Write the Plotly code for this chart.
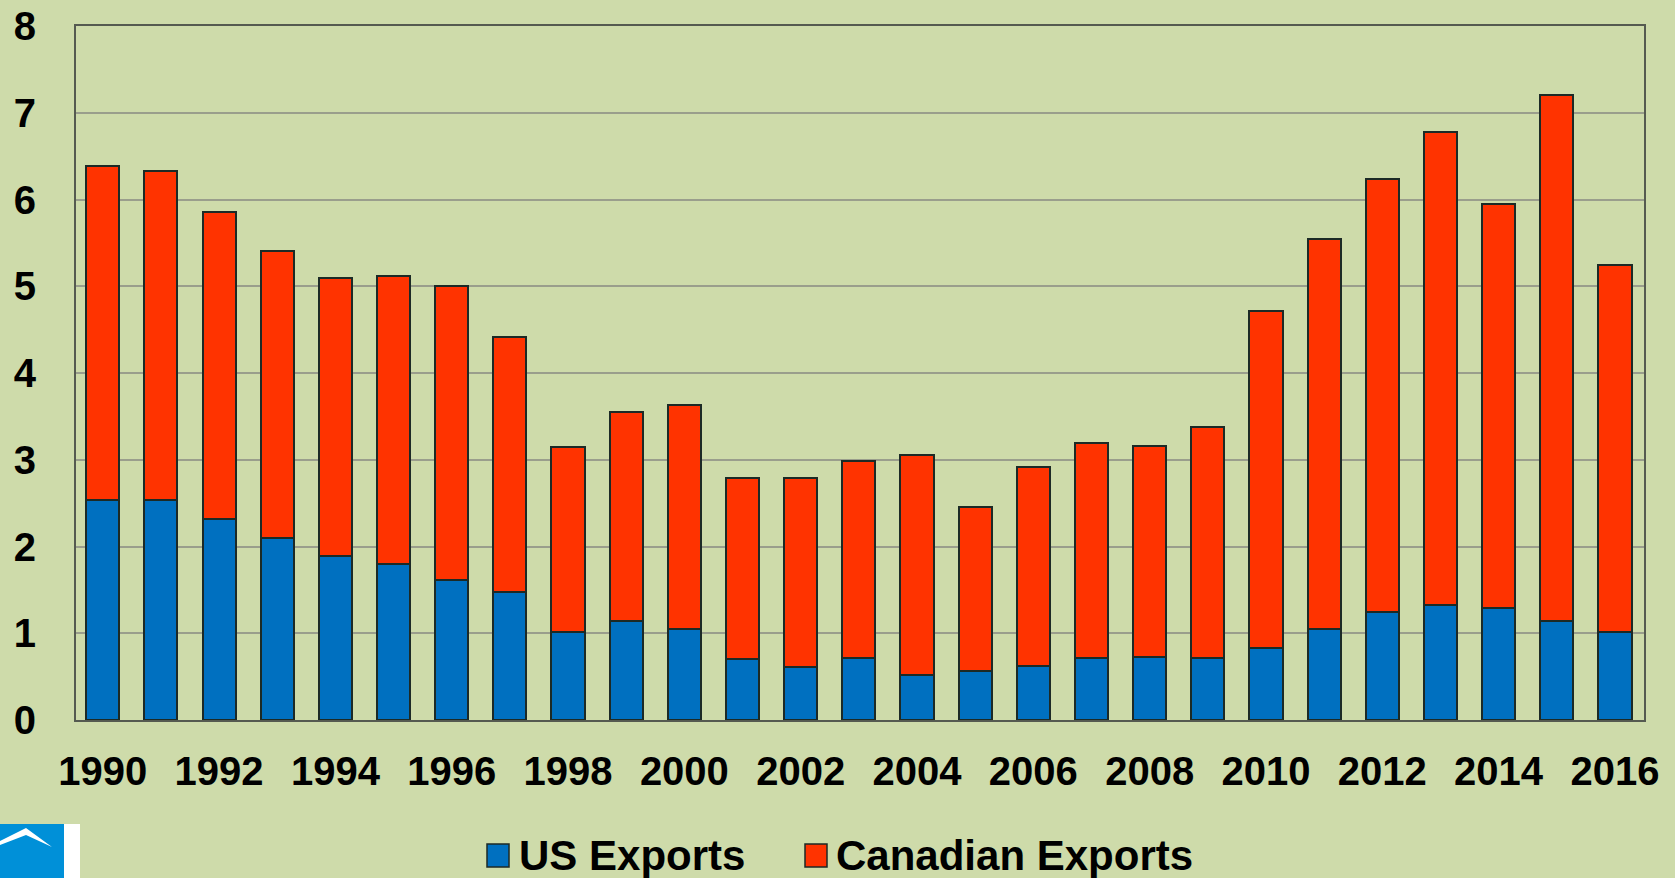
import plotly.graph_objects as go

years = list(range(1990, 2017))
us_exports = [2.54, 2.54, 2.32, 2.10, 1.89, 1.80, 1.61, 1.48, 1.02, 1.14, 1.05, 0.70, 0.61, 0.71,
              0.52, 0.56, 0.62, 0.71, 0.73, 0.71, 0.83, 1.05, 1.24, 1.33, 1.29, 1.14, 1.02]
canadian_exports = [3.85, 3.79, 3.54, 3.31, 3.20, 3.32, 3.39, 2.93, 2.13, 2.41, 2.58, 2.09, 2.18, 2.27,
                    2.54, 1.89, 2.30, 2.48, 2.43, 2.67, 3.89, 4.50, 5.00, 5.45, 4.66, 6.06, 4.23]
series = [("US Exports", us_exports, "#0070c0", 487, 517), ("Canadian Exports", canadian_exports, "#ff3300", 805, 834)]

BG = "#cedbaa"
FAMILY = "Liberation Sans, Arial, sans-serif"
W, H = 1675, 878
L, R, T, B = 76, 1644, 26, 720


def px(x):
    return (x - L) / (R - L)


def py(y):
    return (B - y) / (B - T)


tickfont = dict(family=FAMILY, size=40, color="black", weight="bold")
fig = go.Figure()
shapes = [
    dict(type="rect", xref="paper", yref="paper", x0=px(0), x1=px(64), y0=py(H), y1=py(824), fillcolor="#0090d8", line_width=0, layer="above"),
    dict(type="rect", xref="paper", yref="paper", x0=px(64), x1=px(80), y0=py(H), y1=py(824), fillcolor="white", line_width=0, layer="above"),
    dict(type="path", xref="paper", yref="paper", layer="above", fillcolor="white", line_width=0,
         path=f"M {px(0)} {py(841)} L {px(26)} {py(828)} L {px(52)} {py(847)} L {px(26)} {py(835)} L {px(0)} {py(845)} Z"),
]
annotations = []
for name, vals, col, sx, tx in series:
    fig.add_bar(x=years, y=vals, name=name, width=0.57, marker=dict(color=col, line=dict(color="#1c2a26", width=2)))
    shapes.append(dict(type="rect", xref="paper", yref="paper", x0=px(sx), x1=px(sx + 22), y0=py(867), y1=py(844),
                       fillcolor=col, line=dict(color="#1c2a26", width=1.5), layer="above"))
    annotations.append(dict(text=name, xref="paper", yref="paper", x=px(tx), y=py(855), xanchor="left", yanchor="middle",
                            showarrow=False, font=dict(family=FAMILY, size=42, color="black", weight="bold")))

fig.update_layout(
    width=W, height=H, barmode="stack", paper_bgcolor=BG, plot_bgcolor=BG, showlegend=False,
    margin=dict(l=L, r=W - R, t=T, b=H - B, pad=0, autoexpand=False),
    xaxis=dict(range=[1989.54, 2016.5], tick0=1990, dtick=2, showgrid=False, ticks="", ticklabelstandoff=15, automargin=False,
               showline=True, linecolor="#555a50", linewidth=2, mirror=True, tickfont=tickfont),
    yaxis=dict(range=[0, 8], dtick=1, showgrid=True, gridcolor="#9a9e8c", gridwidth=1.5, ticks="", ticklabelstandoff=30, automargin=False,
               zeroline=False, showline=True, linecolor="#555a50", linewidth=2, mirror=True, tickfont=tickfont),
    shapes=shapes, annotations=annotations,
)

fig.write_html("out.html", config=dict(displayModeBar=False),
               post_script="document.body.style.margin='0';document.body.style.overflow='hidden';")
